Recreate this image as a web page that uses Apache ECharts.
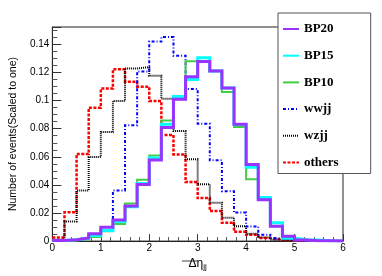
<!DOCTYPE html>
<html><head><meta charset="utf-8">
<script src="https://cdn.jsdelivr.net/npm/echarts@6/dist/echarts.min.js"></script>
<style>html,body{margin:0;padding:0;background:#fff}#c{width:382px;height:276px}</style>
</head><body><div id="c"></div>
<script>
// Histogram binning (24 bins of width 0.25 over 0..6)
const binStart = 0;
const binWidth = 0.25;
const xTicks = [0, 1, 2, 3, 4, 5, 6];
const yTicks = [0, 0.02, 0.04, 0.06, 0.08, 0.1, 0.12, 0.14];

const legendOrder = ['BP20', 'BP15', 'BP10', 'wwjj', 'wzjj', 'others'];

const bp20 = [0.0005, 0.001, 0.0023, 0.0053, 0.0099, 0.015, 0.0249, 0.0403, 0.0578, 0.0808, 0.101, 0.117, 0.1278, 0.121, 0.1089, 0.0832, 0.0545, 0.0295, 0.0105, 0.0035, 0.0007, 0.0003, 0.0002, 0.0001];
const bp15 = [0.0005, 0.001, 0.002, 0.004, 0.0076, 0.014, 0.0244, 0.041, 0.0592, 0.0832, 0.103, 0.115, 0.1306, 0.121, 0.109, 0.083, 0.0525, 0.031, 0.0131, 0.002, 0.001, 0.0007, 0.0003, 0.0001];
const bp10 = [0.0003, 0.0005, 0.0015, 0.003, 0.007, 0.0122, 0.0267, 0.0437, 0.061, 0.0859, 0.101, 0.128, 0.128, 0.1215, 0.1061, 0.0812, 0.044, 0.030, 0.0106, 0.0023, 0.0008, 0.0003, 0.0001, 0.0001];
const wwjj = [0.0005, 0.001, 0.002, 0.005, 0.01, 0.036, 0.0824, 0.1208, 0.142, 0.1453, 0.1319, 0.1082, 0.0836, 0.0575, 0.0355, 0.0203, 0.0104, 0.0046, 0.002, 0.001, 0.0005, 0.0002, 0, 0];
const wzjj = [0.001, 0.014, 0.036, 0.0598, 0.0776, 0.0997, 0.1229, 0.1238, 0.1177, 0.1013, 0.0783, 0.0583, 0.0405, 0.0273, 0.0167, 0.0106, 0.0053, 0.0025, 0.001, 0.0005, 0.0002, 0, 0, 0];
const others = [0.0025, 0.0205, 0.062, 0.095, 0.1086, 0.1224, 0.1135, 0.1098, 0.0997, 0.0755, 0.0617, 0.042, 0.0306, 0.0214, 0.013, 0.0066, 0.0045, 0.0022, 0.001, 0.0005, 0.0002, 0, 0, 0];

function histPoints(vals) {
  const pts = vals.map((v, i) => [binStart + i * binWidth, v]);
  pts.push([binStart + vals.length * binWidth, vals[vals.length - 1]]);
  return pts;
}

function hist(name, vals, color, width, type) {
  return {
    name: name, type: 'line', step: 'end', symbol: 'none', showSymbol: false,
    data: histPoints(vals), animation: false, clip: true,
    lineStyle: { color: color, width: width, type: type, cap: 'butt', join: 'miter' },
    itemStyle: { color: color },
    emphasis: { disabled: true }
  };
}

const chart = echarts.init(document.getElementById('c'), null, { renderer: 'canvas' });
const font = "'Liberation Sans', Arial, Helvetica, sans-serif";
chart.setOption({
  animation: false,
  backgroundColor: '#fff',
  grid: { left: 38, top: 27, width: 305, height: 220.7, show: true, borderColor: '#222', borderWidth: 1, backgroundColor: 'transparent', containLabel: false },
  legend: {
    data: legendOrder, orient: 'vertical', left: 278, top: 13,
    itemWidth: 16, itemHeight: 14, itemGap: 12.7,
    padding: [9, 32, 4, 4],
    backgroundColor: '#fff', borderColor: '#555', borderWidth: 1, borderRadius: 0,
    itemStyle: { color: 'rgba(0,0,0,0)', borderWidth: 0, opacity: 0 },
    lineStyle: { width: 2 },
    textStyle: { fontFamily: "'Liberation Serif', 'Times New Roman', serif", fontWeight: 'bold', fontSize: 13, color: '#000', lineHeight: 14 },
    selectedMode: false
  },
  xAxis: {
    type: 'value', min: xTicks[0], max: xTicks[xTicks.length - 1], interval: 1,
    axisLine: { show: true, lineStyle: { color: '#222', width: 1 } },
    axisTick: { show: true, inside: true, length: 7, lineStyle: { color: '#333' } },
    minorTick: { show: true, splitNumber: 5, length: 4, lineStyle: { color: '#555' } },
    splitLine: { show: false },
    axisLabel: { fontFamily: font, fontSize: 10, color: '#000', margin: 2 },
    name: '{d|Δη}{s|jj}', nameLocation: 'middle', nameGap: 14,
    nameTextStyle: { rich: { d: { fontFamily: font, fontSize: 12, color: '#000' }, s: { fontFamily: font, fontSize: 8, color: '#000', padding: [6, 0, 0, 0] } } }
  },
  yAxis: {
    type: 'value', min: 0, max: 0.1524, interval: 0.02,
    axisLine: { show: true, lineStyle: { color: '#222', width: 1 } },
    axisTick: { show: true, inside: true, length: 9, lineStyle: { color: '#333' } },
    minorTick: { show: true, splitNumber: 4, length: 5, lineStyle: { color: '#555' } },
    splitLine: { show: false },
    axisLabel: {
      fontFamily: font, fontSize: 10, color: '#000', margin: 3, showMaxLabel: false,
      formatter: function (v) {
        const k = yTicks.findIndex(t => Math.abs(t - v) < 1e-6);
        return k < 0 ? '' : String(yTicks[k]);
      }
    },
    name: 'Number of events(Scaled to one)', nameLocation: 'middle', nameGap: 30, nameRotate: 90,
    nameTextStyle: { fontFamily: font, fontSize: 10.5, color: '#000' }
  },
  graphic: [
    { type: 'line', shape: { x1: 182, y1: 261, x2: 197, y2: 261 }, style: { stroke: '#444', lineWidth: 1 }, silent: true }
  ],
  series: [
    hist('others', others, '#ff0000', 2.5, [3, 1.5]),
    hist('wzjj', wzjj, '#000000', 2, [1, 1]),
    hist('wwjj', wwjj, '#0000ff', 2, [3, 2, 1, 2]),
    hist('BP10', bp10, '#44cc44', 2, 'solid'),
    hist('BP15', bp15, '#00ffff', 3, 'solid'),
    hist('BP20', bp20, '#9933ff', 3, 'solid')
  ]
});
</script>
</body></html>
